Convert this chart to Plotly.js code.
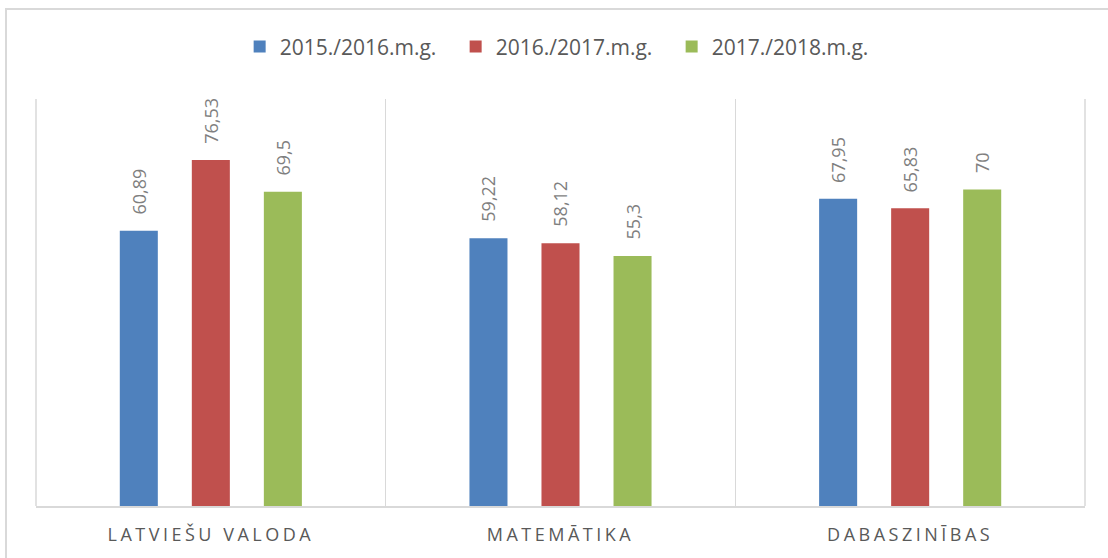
<!DOCTYPE html>
<html>
<head>
<meta charset="utf-8">
<script src="https://cdn.plot.ly/plotly-3.0.1.min.js"></script>
<style>
  html, body { margin: 0; padding: 0; background: #fff; overflow: hidden; }
  #wrap { position: relative; width: 1108px; height: 558px; }
  #frame { position: absolute; left: 5px; top: 8px; width: 1200px; height: 700px;
           border: 2px solid #d9d9d9; box-sizing: border-box; pointer-events: none; }
  #chart { position: absolute; left: 0; top: 0; width: 1108px; height: 558px; }
  #chart .xtick text { letter-spacing: 3.5px; }
</style>
</head>
<body>
<div id="wrap">
  <div id="frame"></div>
  <div id="chart"></div>
</div>
<script>
// ---- data ----
const categories = ["LATVIEŠU VALODA", "MATEMĀTIKA", "DABASZINĪBAS"];
const seriesNames = ["2015./2016.m.g.", "2016./2017.m.g.", "2017./2018.m.g."];
const values2015 = [60.89, 59.22, 67.95];
const values2016 = [76.53, 58.12, 65.83];
const values2017 = [69.5, 55.3, 70];
const seriesColors = ["#4f81bd", "#c0504d", "#9bbb59"];

const allValues = [values2015, values2016, values2017];
const fmt = v => String(v).replace('.', ',');

const traces = allValues.map((vals, i) => ({
  type: 'bar',
  name: seriesNames[i],
  x: categories,
  y: vals,
  marker: { color: seriesColors[i] },
  hoverinfo: 'skip'
}));

const annotations = [];
allValues.forEach((vals, i) => {
  vals.forEach((v, j) => {
    annotations.push({
      x: categories[j], y: v, xref: 'x', yref: 'y',
      text: fmt(v), showarrow: false, textangle: -90,
      xanchor: 'center', yanchor: 'bottom',
      xshift: (i - 1) * 72, yshift: 14,
      font: { family: 'Open Sans', size: 18, color: '#7f7f7f' }
    });
  });
});

const edgeLine = x => ({
  type: 'line', xref: 'paper', yref: 'paper', x0: x, x1: x, y0: 0, y1: 1,
  line: { color: '#d9d9d9', width: 1.5 }, layer: 'below'
});

const layout = {
  width: 1108, height: 558,
  margin: { l: 36, r: 23, t: 99, b: 52 },
  paper_bgcolor: 'rgba(0,0,0,0)',
  plot_bgcolor: 'rgba(0,0,0,0)',
  font: { family: 'Open Sans', color: '#595959' },
  barmode: 'group',
  bargap: 0.382,
  bargroupgap: 0.472,
  showlegend: true,
  legend: {
    orientation: 'h', x: 0.503, xanchor: 'center', y: 1.128, yanchor: 'middle',
    font: { family: 'Open Sans', size: 21, color: '#595959' },
    entrywidth: 171, entrywidthmode: 'pixels',
    traceorder: 'normal'
  },
  xaxis: {
    type: 'category',
    range: [-0.5, 2.5],
    tickson: 'boundaries',
    showgrid: true, gridcolor: '#d9d9d9', gridwidth: 1,
    showline: true, linecolor: '#d9d9d9', linewidth: 2,
    ticks: '', ticklabelstandoff: 11,
    tickfont: { family: 'Open Sans', size: 18, color: '#595959' },
    fixedrange: true
  },
  yaxis: {
    range: [0, 90],
    showgrid: false, zeroline: false, showline: false,
    showticklabels: false, ticks: '',
    fixedrange: true
  },
  shapes: [edgeLine(0), edgeLine(1)],
  annotations: annotations
};

Plotly.newPlot('chart', traces, layout, { staticPlot: true, displayModeBar: false });
</script>
</body>
</html>
